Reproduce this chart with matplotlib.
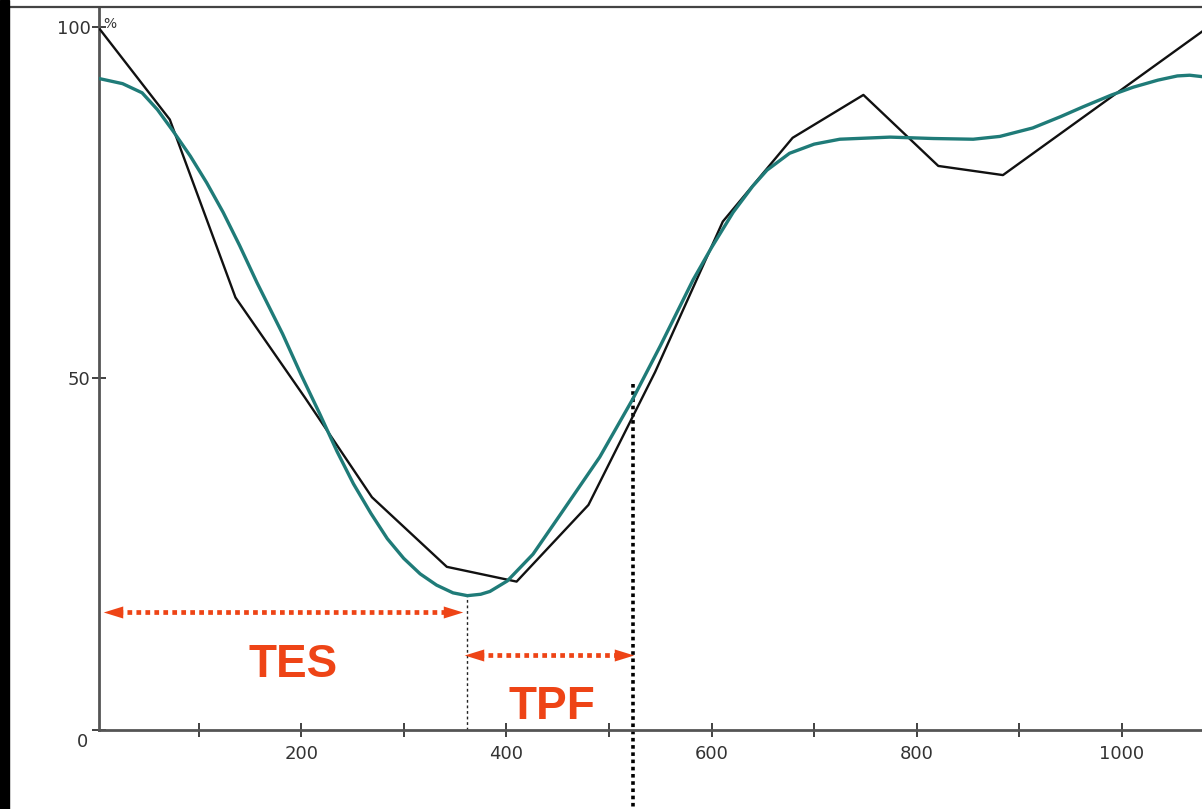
import matplotlib
matplotlib.use("Agg")
import matplotlib.pyplot as plt
import numpy as np
from matplotlib.patches import Rectangle
from matplotlib.lines import Line2D
from matplotlib.transforms import ScaledTranslation

# raw curve (black polyline)
raw_x = [4, 72, 136, 204, 269, 342, 410, 480, 545, 611, 679, 748, 821, 884, 1078]
raw_y = [99.6, 86.8, 61.5, 47.2, 33.1, 23.2, 21.1, 32.0, 50.9, 72.3, 84.2, 90.3, 80.2, 78.9, 99.3]

# fitted curve (teal)
fit_x = [4, 26, 45, 60, 75, 92, 108, 124, 140, 157, 182, 200, 218, 235, 251,
         268, 284, 300, 316, 332, 348, 362, 375, 384, 401, 426, 452, 491, 523,
         550, 582, 600, 621, 640, 654, 676, 700, 725, 774, 816, 855, 881, 913,
         940, 962, 990, 1011, 1035, 1054, 1066, 1078]
fit_y = [92.6, 91.9, 90.6, 88.2, 85.2, 81.6, 77.8, 73.6, 68.9, 63.6, 56.3, 50.5,
         45.0, 39.6, 35.0, 30.8, 27.2, 24.4, 22.2, 20.6, 19.5, 19.1, 19.3, 19.7,
         21.2, 25.0, 30.5, 38.8, 47.0, 54.6, 64.0, 68.6, 73.6, 77.3, 79.6, 82.0,
         83.3, 84.0, 84.3, 84.1, 84.0, 84.4, 85.6, 87.2, 88.6, 90.3, 91.4, 92.4,
         93.0, 93.1, 92.9]

# end of the TPF interval
tpf_end = 523.4

x_ticks = list(range(100, 1100, 100))
y_ticks = [0, 50, 100]

RED = '#EE4416'
TEAL = '#1F7B78'

fig = plt.figure(figsize=(12.02, 8.09), dpi=100)
W, H = 1202, 809
ax = fig.add_axes([99 / W, 79 / H, 1103 / W, 723 / H])

# screen frame: black strip on the left, line along the top
fig.patches.append(Rectangle((0, 0), 9 / W, 1, transform=fig.transFigure,
                             color='black', zorder=10))
fig.lines.append(Line2D([9 / W, 1], [1 - 7 / H, 1 - 7 / H], transform=fig.transFigure,
                        color='#444444', lw=1.6))

ax.plot(raw_x, raw_y, color='#111111', lw=1.7, zorder=3)
ax.plot(fit_x, fit_y, color=TEAL, lw=2.4, zorder=4, solid_joinstyle='round')

ax.set_xlim(3, 1078)
ax.set_ylim(0, 102.8)

# minimum of the fitted curve marks end of TES
i_min = int(np.argmin(fit_y))
tes_end = fit_x[i_min]
ax.plot([tes_end, tes_end], [0, fit_y[i_min]], color='#222222', lw=1.0,
        linestyle=(0, (2, 2)), zorder=2)
ax.plot([tpf_end, tpf_end], [49.2, -11.5], color='black', lw=2.6,
        linestyle=(0, (1, 1)), clip_on=False, zorder=2)

head = [(-1, -0.62), (1, 0), (-1, 0.62), (-1, -0.62)]
head_l = [(-x, y) for x, y in head]


def dotted_arrow(x0, x1, y):
    ax.plot([x0 + 14, x1 - 14], [y, y], color=RED, lw=3.4,
            linestyle=(0, (1, 0.9)), solid_capstyle='butt', zorder=5)
    ax.plot([x0 + 9], [y], marker=head_l, markersize=14, color=RED,
            markeredgewidth=0, zorder=5)
    ax.plot([x1 - 9], [y], marker=head, markersize=14, color=RED,
            markeredgewidth=0, zorder=5)


dotted_arrow(8, tes_end - 5, 16.8)
dotted_arrow(tes_end - 3, tpf_end, 10.6)

ax.text(192, 9.3, 'TES', color=RED, fontsize=33, fontweight='bold',
        family='Liberation Sans', ha='center', va='center')
ax.text(444, 3.3, 'TPF', color=RED, fontsize=33, fontweight='bold',
        family='Liberation Sans', ha='center', va='center')

for s in ['top', 'right']:
    ax.spines[s].set_visible(False)
for s in ['left', 'bottom']:
    ax.spines[s].set_color('#555555')
    ax.spines[s].set_linewidth(2)

ax.set_xticks(x_ticks)
ax.set_xticklabels(['' if v % 200 else str(v) for v in x_ticks])
ax.set_yticks(y_ticks)
ax.set_yticklabels([str(v) for v in y_ticks])
ax.tick_params(direction='inout', length=10, width=1.3, color='#333333',
               labelcolor='#333333', labelsize=13)
ax.tick_params(axis='x', pad=6)
ax.tick_params(axis='y', pad=1)
lab0 = ax.yaxis.get_ticklabels()[0]
lab0.set_transform(lab0.get_transform()
                   + ScaledTranslation(-2 / 72, -7 / 72, fig.dpi_scale_trans))

ax.text(0.004, 0.976, '%', transform=ax.transAxes, fontsize=10,
        color='#333333', ha='left', va='center')

fig.savefig('out.png', dpi=100)
